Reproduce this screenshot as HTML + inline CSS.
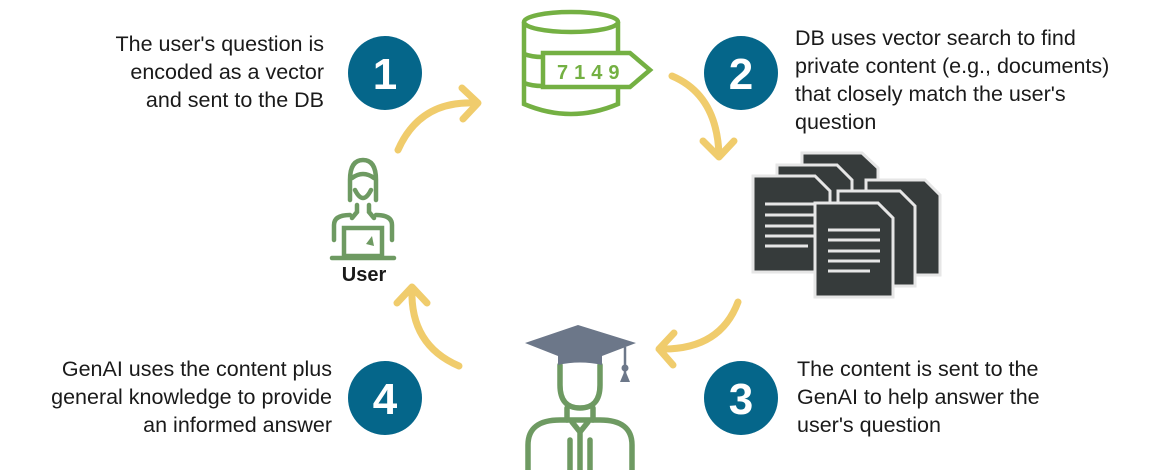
<!DOCTYPE html>
<html><head><meta charset="utf-8"><style>
html,body{margin:0;padding:0;background:#fff;}
svg{display:block;}
text{font-family:"Liberation Sans",sans-serif;}
</style></head><body>
<svg width="1162" height="470" viewBox="0 0 1162 470" xmlns="http://www.w3.org/2000/svg">
<!-- texts -->
<g font-size="21.5" fill="#1a1a1a">
<text x="324" y="51" text-anchor="end">The user's question is</text>
<text x="324" y="79" text-anchor="end">encoded as a vector</text>
<text x="324" y="107" text-anchor="end">and sent to the DB</text>
<text x="795" y="45">DB uses vector search to find</text>
<text x="795" y="73">private content (e.g., documents)</text>
<text x="795" y="101">that closely match the user's</text>
<text x="795" y="129">question</text>
<text x="797" y="376">The content is sent to the</text>
<text x="797" y="404">GenAI to help answer the</text>
<text x="797" y="432">user's question</text>
<text x="332" y="376" text-anchor="end">GenAI uses the content plus</text>
<text x="332" y="404" text-anchor="end">general knowledge to provide</text>
<text x="332" y="432" text-anchor="end">an informed answer</text>
</g>
<!-- circles -->
<g fill="#05668a">
<circle cx="385" cy="73" r="37"/><circle cx="741" cy="73" r="37"/>
<circle cx="741" cy="398" r="37"/><circle cx="385" cy="398" r="37"/>
</g>
<g fill="#fff" font-size="44" font-weight="bold" text-anchor="middle">
<text x="385" y="89">1</text><text x="741" y="89">2</text>
<text x="741" y="414">3</text><text x="385" y="414">4</text>
</g>
<!-- arrows -->
<g fill="none" stroke="#f0cc6c" stroke-width="7" stroke-linecap="round" stroke-linejoin="round">
<path d="M398 150 Q420 100 476 103"/><path d="M462 88 L478 103 L463 119"/>
<path d="M672 76 Q717 95 719 155"/><path d="M703 141 L719 157 L734 141"/>
<path d="M738 302 Q720 350 661 349"/><path d="M674 333 L659 349 L673 365"/>
<path d="M459 366 Q410 345 412 289"/><path d="M397 303 L412 287 L427 303"/>
</g>
<!-- DB -->
<g fill="none" stroke="#74b043" stroke-width="4.5">
<ellipse cx="571" cy="22" rx="47" ry="10"/>
<path d="M524 22 V104 Q571 124 618 104 V88"/>
<path d="M618 22 V52"/>
<path d="M524 54 Q532 57 542 57"/>
<path d="M524 83 Q532 86 542 86"/>
<path d="M543 53 H630 L650 70 L630 87 H543 Z"/>
</g>
<text x="557" y="79" font-size="20" fill="#74b043" font-weight="bold" letter-spacing="6">7149</text>
<!-- docs -->
<g stroke="#e6e6e6" stroke-width="3" fill="#363b3b">
<path d="M802 153 H862 L878 168 V250 H802 Z"/>
<path d="M777 165 H837 L852 180 V262 H777 Z"/>
<path d="M753 176 H815 L830 191 V272 H753 Z"/>
<path d="M866 180 H925 L940 195 V275 H866 Z"/>
<path d="M838 191 H900 L915 206 V286 H838 Z"/>
<path d="M815 203 H878 L893 218 V297 H815 Z"/>
</g>
<g stroke="#e6e6e6" stroke-width="3">
<path d="M765 204 H815 M765 215 H815 M765 226 H815 M765 236 H815 M765 246 H808"/>
<path d="M828 230 H880 M828 240 H880 M828 251 H880 M828 261 H880 M828 271 H870"/>
</g>
<!-- user -->
<g fill="none" stroke="#6e9a62" stroke-width="4.5" stroke-linecap="round">
<path d="M350 200 V180 Q350 160 363 160 Q376 160 376 180 V200"/>
<path d="M352 178 Q363 170 374 178"/>
<path d="M355 190 Q363 206 371 190"/>
<path d="M357 205 V212 L352 218 M369 205 V212 L374 218"/>
<path d="M334 240 V225 Q334 215 350 215 M392 240 V225 Q392 215 376 215"/>
<rect x="344" y="228" width="38" height="28"/>
<path d="M332 258 H394"/>
</g>
<path d="M366 244 L372 236 L374 246 Z" fill="#6e9a62"/>
<text x="364" y="281" font-size="20" font-weight="bold" text-anchor="middle" fill="#1a1a1a">User</text>
<!-- graduate -->
<g fill="none" stroke="#6e9a62" stroke-width="5.5" stroke-linecap="round">
<path d="M560 365 V385 Q560 408 580 408 Q600 408 600 385 V365"/>
<path d="M567 408 V420 M593 408 V420"/>
<path d="M528 470 V445 Q528 420 560 420 H600 Q632 420 632 445 V470"/>
<path d="M572 422 L580 432 L588 422 M580 432 V470 M570 440 V470 M590 440 V470"/>
</g>
<path d="M525 343 L578 325 L636 343 L602 356 V365 Q580 360 558 365 V356 Z" fill="#6c7789"/>
<path d="M625 347 V375" stroke="#6c7789" stroke-width="2.5"/>
<circle cx="625" cy="368" r="3.5" fill="#6c7789"/>
<path d="M625 370 L620 382 H630 Z" fill="#6c7789"/>
</svg>
</body></html>
